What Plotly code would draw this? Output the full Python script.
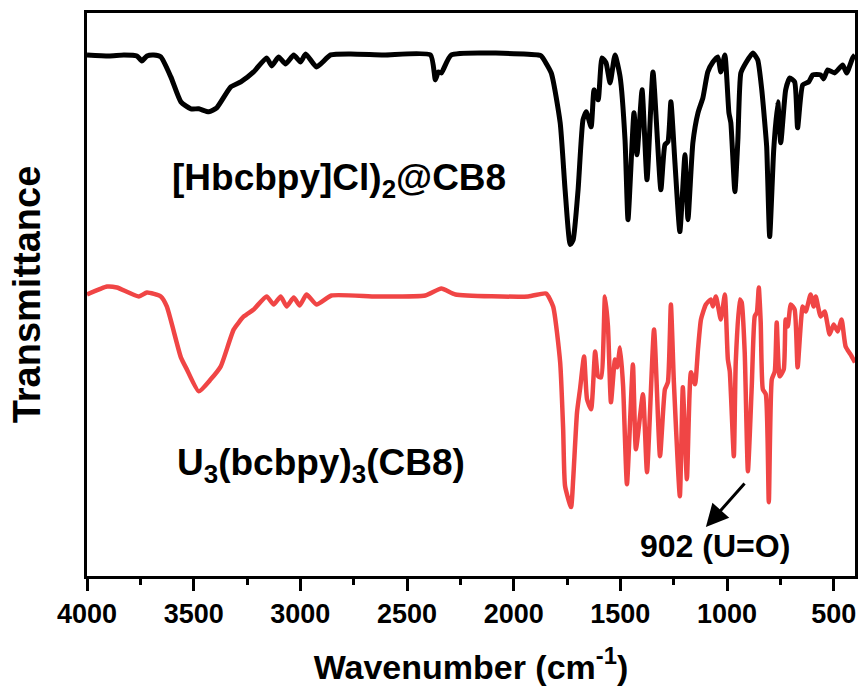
import plotly.graph_objects as go

# Wavenumbers (cm^-1) and transmittance (arbitrary units)
wn_black = [4000, 3897, 3827, 3766, 3743, 3719, 3687, 3654, 3607, 3560, 3513, 3476, 3429, 3392,
            3326, 3279, 3219, 3158, 3134, 3102, 3069, 3031, 2999, 2975, 2924, 2858, 2765, 2610,
            2390, 2367, 2353, 2339, 2292, 1885, 1871, 1824, 1782, 1759, 1735, 1721, 1698, 1675,
            1660, 1637, 1623, 1604, 1586, 1567, 1548, 1525, 1501, 1478, 1464, 1436, 1422, 1398,
            1375, 1347, 1310, 1291, 1277, 1263, 1244, 1221, 1197, 1183, 1160, 1136, 1113, 1090,
            1066, 1043, 1029, 1010, 991, 982, 963, 949, 935, 912, 879, 856, 837, 823, 814, 800,
            781, 762, 748, 725, 706, 683, 669, 645, 617, 598, 561, 547, 528, 495, 458, 439, 411, 400]
t_black = [52.2, 52.1, 52.2, 52.1, 51.6, 52.1, 52.2, 52.0, 50.0, 47.5, 46.8, 46.8, 46.5, 46.9,
           49.0, 49.5, 50.5, 51.9, 51.1, 52.0, 51.3, 52.2, 51.5, 52.3, 51.0, 52.2, 52.3, 52.2,
           52.2, 49.7, 50.5, 50.4, 52.2, 52.2, 52.1, 50.4, 45.4, 38.7, 33.2, 33.7, 38.7, 45.7,
           46.5, 45.0, 48.7, 47.7, 51.9, 51.4, 49.4, 52.2, 50.0, 43.7, 35.7, 46.4, 42.2, 48.7,
           39.7, 50.5, 38.7, 43.2, 43.5, 47.5, 41.4, 34.5, 42.2, 35.7, 43.4, 46.4, 47.9, 50.5,
           51.5, 52.0, 50.5, 52.2, 46.4, 45.4, 38.5, 43.7, 50.4, 51.4, 52.4, 51.7, 48.7, 45.4,
           43.0, 34.0, 42.7, 47.5, 43.4, 48.7, 49.9, 49.5, 44.9, 49.2, 49.5, 50.2, 50.2, 49.8,
           50.7, 50.4, 51.2, 50.4, 51.9, 52.2]

wn_red = [4000, 3906, 3860, 3757, 3719, 3654, 3626, 3560, 3532, 3476, 3420, 3373, 3312, 3265,
          3219, 3158, 3125, 3092, 3064, 3031, 3003, 2971, 2924, 2854, 2643, 2414, 2339, 2273,
          1932, 1848, 1815, 1782, 1768, 1759, 1731, 1721, 1703, 1689, 1670, 1656, 1637, 1618,
          1604, 1590, 1572, 1558, 1544, 1525, 1515, 1501, 1487, 1469, 1441, 1427, 1394, 1375,
          1342, 1314, 1291, 1277, 1263, 1249, 1221, 1207, 1188, 1169, 1150, 1136, 1122, 1099,
          1076, 1066, 1052, 1029, 1010, 996, 987, 968, 959, 940, 931, 917, 902, 884, 870, 860,
          851, 842, 832, 818, 804, 790, 776, 767, 753, 734, 725, 715, 701, 683, 669, 645, 631,
          608, 594, 584, 561, 542, 519, 500, 481, 463, 444, 421, 400]
t_red = [28.2, 29.0, 28.9, 28.0, 28.4, 28.0, 27.0, 21.9, 20.7, 18.5, 19.7, 21.0, 24.7, 26.0,
         26.7, 28.0, 27.2, 28.0, 27.0, 27.9, 27.1, 28.2, 27.2, 28.1, 28.0, 28.1, 28.8, 28.2,
         28.0, 28.3, 27.0, 21.4, 14.7, 9.0, 6.9, 9.7, 16.4, 18.7, 22.0, 17.7, 16.7, 22.5,
         20.0, 19.9, 28.0, 25.0, 17.4, 21.7, 20.9, 22.9, 19.0, 9.2, 21.2, 12.7, 18.2, 10.4,
         24.7, 12.0, 18.7, 19.4, 27.2, 19.4, 8.0, 18.9, 9.7, 20.4, 19.2, 22.7, 25.7, 27.2,
         27.7, 27.0, 28.0, 25.7, 28.2, 21.7, 20.5, 12.0, 21.4, 27.7, 27.4, 22.4, 10.5, 19.0,
         26.0, 26.4, 28.9, 25.4, 18.7, 18.2, 7.4, 19.7, 20.5, 25.4, 20.0, 20.7, 25.7, 25.0,
         27.2, 26.7, 20.9, 27.0, 26.5, 28.2, 27.0, 28.0, 26.0, 26.5, 24.2, 25.2, 24.5, 25.7,
         23.0, 22.2, 21.4]

x_ticks = [4000, 3500, 3000, 2500, 2000, 1500, 1000, 500]
label_black = "[Hbcbpy]Cl)<sub>2</sub>@CB8"
label_red = "U<sub>3</sub>(bcbpy)<sub>3</sub>(CB8)"
label_peak = "902 (U=O)"

ARIAL = "Liberation Sans, Arial, sans-serif"

fig = go.Figure()
fig.add_trace(go.Scatter(x=wn_black, y=t_black, mode="lines",
                         line=dict(color="#000000", width=5, shape="spline", smoothing=0.5),
                         showlegend=False))
fig.add_trace(go.Scatter(x=wn_red, y=t_red, mode="lines",
                         line=dict(color="#F04545", width=4.5, shape="spline", smoothing=0.5),
                         showlegend=False))

fig.add_annotation(x=0.108, y=0.704, xref="paper", yref="paper", xanchor="left", yanchor="middle",
                   text="<b>" + label_black + "</b>", showarrow=False,
                   font=dict(family=ARIAL, size=37, color="black"))
fig.add_annotation(x=0.114, y=0.197, xref="paper", yref="paper", xanchor="left", yanchor="middle",
                   text="<b>" + label_red + "</b>", showarrow=False,
                   font=dict(family=ARIAL, size=37, color="black"))
fig.add_annotation(x=0.717, y=0.053, xref="paper", yref="paper", xanchor="left", yanchor="middle",
                   text="<b>" + label_peak + "</b>", showarrow=False,
                   font=dict(family=ARIAL, size=32, color="black"))
fig.add_annotation(x=1099, y=4.9, xref="x", yref="y", text="", showarrow=True,
                   ax=40, ay=-45, arrowhead=2, arrowsize=1.5, arrowwidth=3, arrowcolor="black")

fig.update_layout(
    width=867, height=689,
    margin=dict(l=87, r=9, t=13, b=112),
    plot_bgcolor="white", paper_bgcolor="white",
    xaxis=dict(range=[4000, 400], tickvals=x_ticks, ticktext=[str(v) for v in x_ticks],
               ticks="outside", ticklen=12, tickwidth=3, tickcolor="black",
               showline=True, linewidth=3, linecolor="black", mirror=True,
               showgrid=False, zeroline=False,
               minor=dict(dtick=250, tick0=4000, ticks="outside", ticklen=6, tickwidth=3,
                          tickcolor="black", showgrid=False),
               tickfont=dict(family=ARIAL, size=27, color="black", weight="bold"),
               title=dict(text="Wavenumber (cm<sup>-1</sup>)", standoff=27,
                          font=dict(family=ARIAL, size=34, color="black", weight="bold"))),
    yaxis=dict(range=[0, 56.4], showticklabels=False, ticks="",
               showline=True, linewidth=3, linecolor="black", mirror=True,
               showgrid=False, zeroline=False,
               title=dict(text="Transmittance", standoff=32,
                          font=dict(family=ARIAL, size=38, color="black", weight="bold"))),
)

fig.write_html("out.html")
